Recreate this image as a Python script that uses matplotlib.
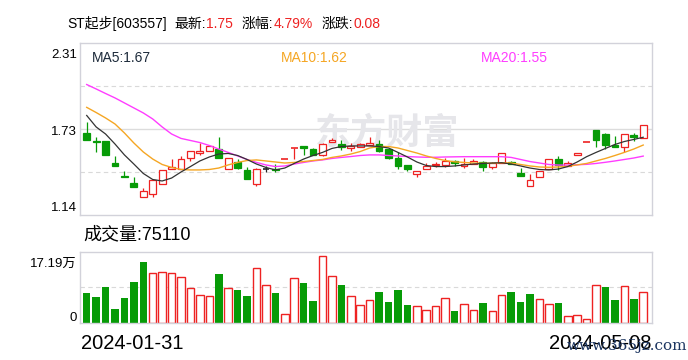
import matplotlib.pyplot as plt

plt.rcParams['font.family'] = ['Liberation Sans', 'Noto Sans CJK SC']

W, H = 688, 360

# daily candles
opens  = [1.70, 1.64, 1.64, 1.49, 1.405, 1.36, 1.26, 1.28, 1.35, 1.45,
          1.45, 1.53, 1.56, 1.575, 1.59, 1.45, 1.50, 1.445, 1.35, 1.455,
          1.45, 1.52, 1.595, 1.61, 1.585, 1.55, 1.635, 1.625, 1.595, 1.60,
          1.615, 1.625, 1.585, 1.53, 1.48, 1.42, 1.45, 1.48, 1.48, 1.505,
          1.47, 1.485, 1.50, 1.465, 1.49, 1.50, 1.425, 1.34, 1.40, 1.45,
          1.52, 1.475, 1.55, 1.634, 1.715, 1.69, 1.615, 1.60, 1.68, 1.665]
highs  = [1.77, 1.67, 1.64, 1.54, 1.44, 1.40, 1.32, 1.38, 1.445, 1.52,
          1.54, 1.575, 1.63, 1.615, 1.67, 1.525, 1.52, 1.465, 1.46, 1.475,
          1.485, 1.52, 1.595, 1.61, 1.595, 1.63, 1.66, 1.65, 1.63, 1.63,
          1.67, 1.65, 1.585, 1.565, 1.48, 1.44, 1.49, 1.50, 1.525, 1.515,
          1.525, 1.52, 1.505, 1.50, 1.56, 1.505, 1.46, 1.42, 1.44, 1.52,
          1.54, 1.505, 1.56, 1.634, 1.715, 1.695, 1.675, 1.69, 1.695, 1.75]
lows   = [1.65, 1.57, 1.55, 1.47, 1.40, 1.33, 1.26, 1.26, 1.35, 1.45,
          1.45, 1.51, 1.55, 1.575, 1.53, 1.45, 1.45, 1.385, 1.34, 1.43,
          1.435, 1.52, 1.52, 1.545, 1.545, 1.54, 1.635, 1.58, 1.575, 1.60,
          1.615, 1.57, 1.52, 1.45, 1.44, 1.40, 1.45, 1.465, 1.465, 1.475,
          1.46, 1.485, 1.44, 1.45, 1.49, 1.485, 1.405, 1.34, 1.40, 1.45,
          1.445, 1.475, 1.55, 1.634, 1.60, 1.59, 1.60, 1.57, 1.645, 1.665]
closes = [1.65, 1.635, 1.55, 1.47, 1.40, 1.33, 1.30, 1.375, 1.445, 1.465,
          1.52, 1.575, 1.575, 1.61, 1.53, 1.525, 1.46, 1.385, 1.455, 1.455,
          1.445, 1.52, 1.595, 1.595, 1.55, 1.625, 1.65, 1.60, 1.61, 1.625,
          1.63, 1.575, 1.53, 1.47, 1.45, 1.44, 1.475, 1.485, 1.505, 1.49,
          1.485, 1.505, 1.465, 1.49, 1.56, 1.485, 1.405, 1.375, 1.44, 1.52,
          1.48, 1.49, 1.56, 1.634, 1.65, 1.615, 1.605, 1.69, 1.67, 1.75]
candle_col = "ggggggrrrrrrrrgrggrkgrrggrrgrrrggggrrrrgrrgrrggrrrgrrrgggrgr"

volume = [72600, 62900, 87200, 33900, 60500, 99300, 147700, 121000, 122700, 121000,
          110600, 83900, 67000, 64600, 118600, 83900, 79900, 65400, 132300, 91200,
          72600, 21000, 108100, 96800, 53300, 161400, 113000, 91200, 66200, 44400,
          54900, 75100, 50800, 79900, 42800, 40400, 32300, 40400, 59700, 29100,
          45200, 30700, 48400, 28200, 67000, 75100, 50800, 70200, 57300, 45200,
          47600, 16100, 20200, 8900, 91200, 86300, 54900, 88800, 57300, 75110]
vol_col = "ggggggg" "rrrrrrr" "grggrrgrrggrrgrrrgggg" "rrrrgrrgrrgggrrgrrrrggrgr"

ma5 = [1.816, 1.738, 1.690, 1.622, 1.548, 1.486, 1.422, 1.381, 1.371, 1.391,
       1.432, 1.469, 1.507, 1.534, 1.554, 1.558, 1.544, 1.517, 1.486, 1.463,
       1.446, 1.459, 1.490, 1.520, 1.544, 1.565, 1.592, 1.605, 1.609, 1.609,
       1.609, 1.605, 1.595, 1.565, 1.534, 1.500, 1.476, 1.469, 1.469, 1.473,
       1.480, 1.486, 1.490, 1.493, 1.495, 1.486, 1.473, 1.459, 1.449, 1.446,
       1.452, 1.469, 1.500, 1.536, 1.565, 1.592, 1.619, 1.639, 1.653, 1.668]
ma10 = [1.871, 1.836, 1.799, 1.758, 1.697, 1.629, 1.568, 1.520, 1.483, 1.463,
        1.449, 1.446, 1.446, 1.449, 1.459, 1.480, 1.497, 1.510, 1.514, 1.507,
        1.500, 1.493, 1.497, 1.503, 1.510, 1.517, 1.531, 1.541, 1.554, 1.571,
        1.595, 1.605, 1.605, 1.595, 1.578, 1.561, 1.541, 1.524, 1.510, 1.501,
        1.497, 1.493, 1.491, 1.492, 1.495, 1.493, 1.483, 1.473, 1.466, 1.464,
        1.466, 1.471, 1.480, 1.490, 1.507, 1.524, 1.544, 1.565, 1.588, 1.615]
ma20 = [2.026, 1.996, 1.965, 1.935, 1.901, 1.867, 1.833, 1.792, 1.738, 1.690,
        1.660, 1.646, 1.632, 1.612, 1.588, 1.565, 1.541, 1.517, 1.497, 1.480,
        1.469, 1.473, 1.486, 1.497, 1.507, 1.514, 1.524, 1.531, 1.537, 1.544,
        1.548, 1.548, 1.544, 1.541, 1.537, 1.534, 1.532, 1.532, 1.534, 1.535,
        1.536, 1.536, 1.536, 1.536, 1.536, 1.531, 1.517, 1.503, 1.493, 1.483,
        1.479, 1.479, 1.481, 1.484, 1.490, 1.498, 1.507, 1.517, 1.527, 1.540]

ymin, ymax = 1.14, 2.31
vmax = 171900
dates = ["2024-01-31", "2024-05-08"]

RED = '#ee2222'
GREEN = '#079b07'
BLACK = '#222222'
FRAME = '#d2d2da'
GRID = '#d9d9d9'

fig = plt.figure(figsize=(W / 100, H / 100), dpi=100)
ax = fig.add_axes([80 / W, 1 - 215 / H, 571.7 / W, 172.3 / H])
axv = fig.add_axes([80 / W, 1 - 323 / H, 571.7 / W, 71.3 / H])

for a in (ax, axv):
    a.set_xlim(-0.71, 59.9)
    a.set_xticks([])
    a.set_yticks([])
    for s in a.spines.values():
        s.set_color(FRAME)
        s.set_linewidth(1)

ax.set_ylim(ymin, ymax)
rng = ymax - ymin
ax.axhline(ymin + rng * 0.25, color=GRID, lw=0.8, ls=(0, (4, 3)), zorder=0)
ax.axhline(ymin + rng * 0.75, color=GRID, lw=0.8, ls=(0, (4, 3)), zorder=0)
ax.axhline(ymin + rng * 0.5, color='#dcdcdc', lw=1, zorder=0)

# watermark
ax.text(0.537, 0.47, '东方财富', transform=ax.transAxes, ha='center', va='center',
        fontsize=26, fontweight='bold', color='#e6e6ea', zorder=0)

cmap = {'r': RED, 'g': GREEN, 'k': BLACK}
bw = 0.72
for i in range(len(opens)):
    o, h, l, c = opens[i], highs[i], lows[i], closes[i]
    col = cmap[candle_col[i]]
    ax.vlines(i, l, h, color=col, lw=0.9, zorder=2)
    if abs(c - o) < 1e-9:
        ax.hlines(o, i - bw / 2, i + bw / 2, color=col, lw=1.2, zorder=3)
    else:
        face = 'white' if candle_col[i] == 'r' else col
        ax.bar(i, c - o, bottom=o, width=bw, facecolor=face, edgecolor=col,
               linewidth=0.9, zorder=3)

xs = list(range(len(ma5)))
ax.plot(xs, ma20, color='#ff3cff', lw=1, zorder=4)
ax.plot(xs, ma10, color='#f5a623', lw=1, zorder=4)
ax.plot(xs, ma5, color='#333333', lw=0.9, zorder=4)

# volume panel
axv.set_ylim(0, vmax)
axv.axhline(vmax / 2, color=GRID, lw=0.8, ls=(0, (4, 3)), zorder=0)
for i, v in enumerate(volume):
    if vol_col[i] == 'r':
        axv.bar(i, v, width=0.8, facecolor='white', edgecolor=RED, linewidth=1, zorder=2)
    else:
        axv.bar(i, v, width=0.8, color=GREEN, linewidth=0, zorder=2)

# texts
def ftext(x, y, s, **kw):
    return fig.text(x / W, 1 - y / H, s, va='baseline', **kw)

# header: label/value pairs laid out one after another
renderer = fig.canvas.get_renderer()
header = [('ST起步[603557]', 'black', 8), ('最新:', 'black', 0), ('1.75', RED, 9),
          ('涨幅:', 'black', 0), ('4.79%', RED, 9), ('涨跌:', 'black', 0), ('0.08', RED, 0)]
x = 67
for s, col, gap in header:
    t = ftext(x, 28.3, s, fontsize=10, color=col)
    x = t.get_window_extent(renderer).x1 + gap

ftext(91.5, 61.7, 'MA5:1.67', fontsize=10, color='#1c2a3a')
ftext(280.7, 61.7, 'MA10:1.62', fontsize=10, color='#f5a623')
ftext(480.7, 61.7, 'MA20:1.55', fontsize=10, color='#ff3cff')

ftext(76.7, 58.3, '%.2f' % ymax, fontsize=9.5, ha='right')
ftext(76.7, 135, '%.2f' % ((ymax + ymin) / 2 + 1e-6), fontsize=9.5, ha='right')
ftext(76.7, 210.7, '%.2f' % ymin, fontsize=9.5, ha='right')

ftext(83, 239.5, '成交量:%d' % volume[-1], fontsize=13)
ftext(76.7, 266.7, '%.2f万' % (vmax / 10000), fontsize=9.5, ha='right')
ftext(76.7, 320.7, '0', fontsize=9.5, ha='right')

ftext(81, 349.3, dates[0], fontsize=14.5)
ftext(651.7, 349.3, dates[1], fontsize=14.5, ha='right')
ftext(567, 350, 'www.365jz.com', fontsize=11, color='#1c3560', family='DejaVu Serif')

fig.savefig('out.png', dpi=100)
